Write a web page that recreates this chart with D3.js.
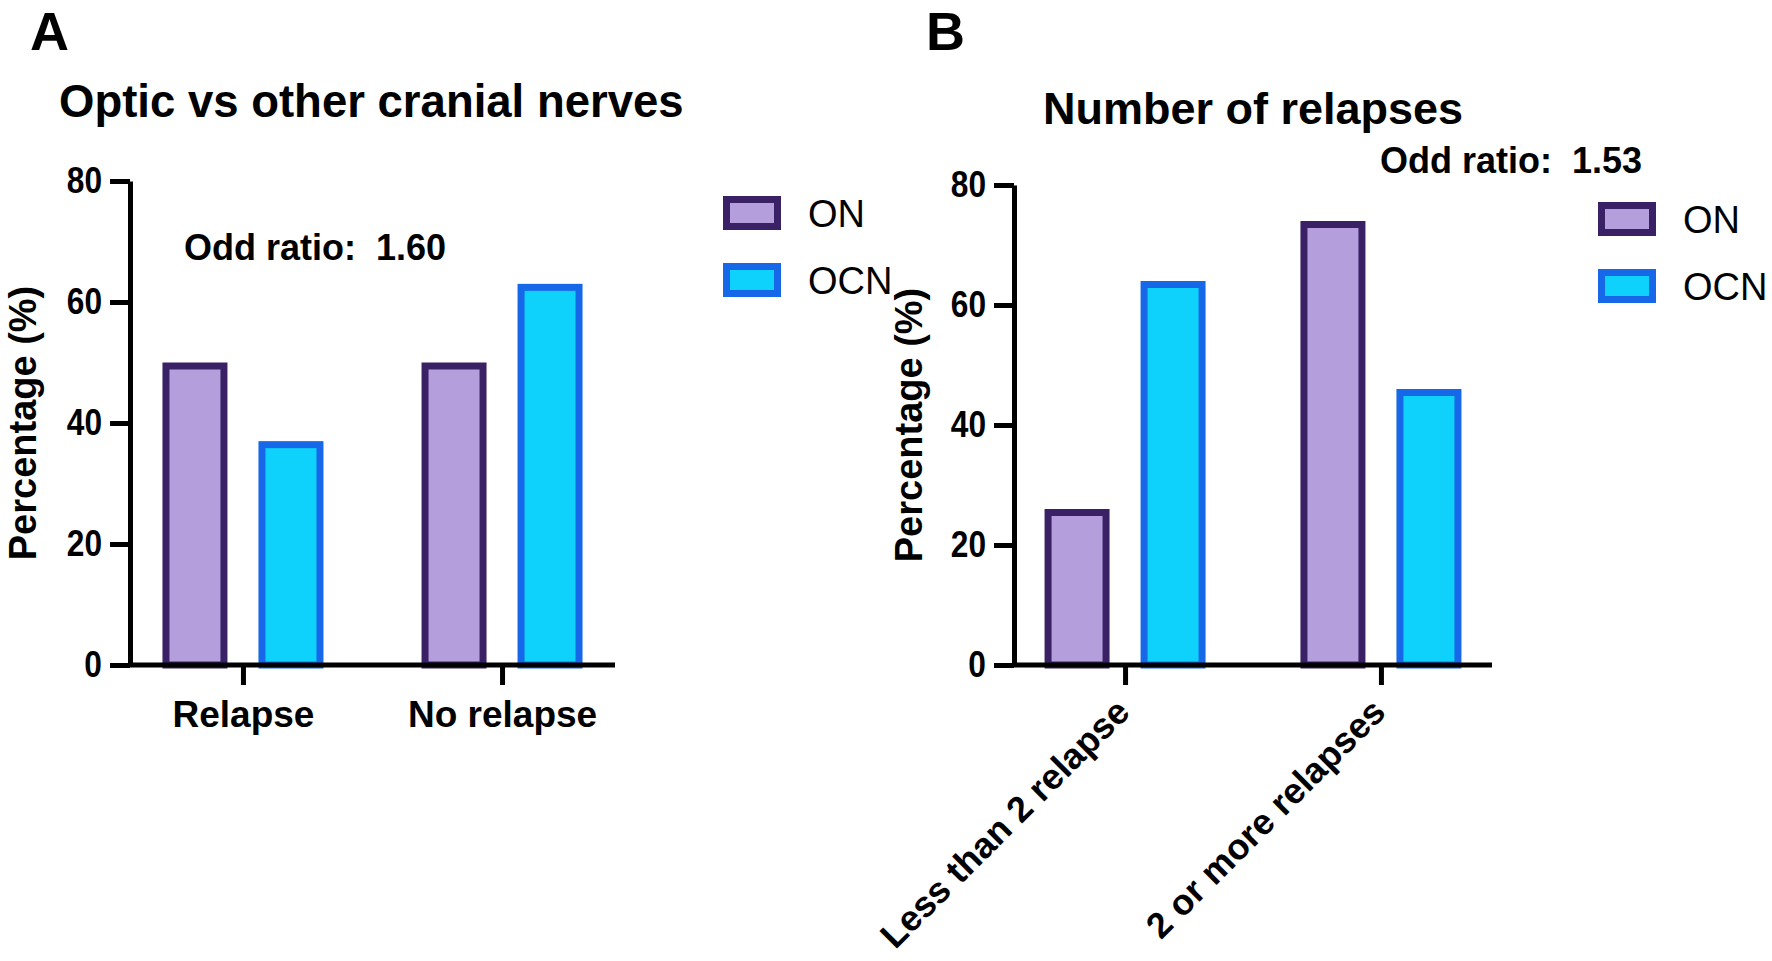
<!DOCTYPE html>
<html>
<head>
<meta charset="utf-8">
<script src="https://cdn.jsdelivr.net/npm/d3@7"></script>
<style>
  html, body { margin: 0; padding: 0; background: #fff; }
  svg { display: block; font-family: "Liberation Sans", Arial, sans-serif; }
</style>
</head>
<body>
<svg id="chart" width="1772" height="961"></svg>
<script>
// values
const series = ["ON", "OCN"];
const yTicks = [0, 20, 40, 60, 80];

const catsA = ["Relapse", "No relapse"];
const onA = [50, 50];
const ocnA = [37, 63];

const catsB = ["Less than 2 relapse", "2 or more relapses"];
const onB = [26, 74];
const ocnB = [64, 46];

const fillCol = { ON: "#b49edc", OCN: "#0ed2fc" };
const strokeCol = { ON: "#3a2166", OCN: "#1768e8" };
const sw = 7; // bar outline, drawn inside the bar

const svg = d3.select("#chart");
svg.append("rect").attr("width", 1772).attr("height", 961).attr("fill", "#fff");

// one panel = letter, title, bars, axes, legend, odds ratio
function drawPanel(p) {
    const g = svg.append("g");

    const x0 = d3.scalePoint().domain(p.cats).range(p.xRange).padding(p.xPad);
    const x1 = d3.scaleBand().domain(series).range([-80.5, 80.5]).paddingInner(0.323);
    const y = d3.scaleLinear().domain([0, 80]).range(p.yRange);

    const rows = p.cats.map((c, i) => ({ cat: c, ON: p.on[i], OCN: p.ocn[i] }));

    // bars
    const groups = g.selectAll(".grp").data(rows).enter().append("g")
        .attr("transform", d => `translate(${x0(d.cat)},0)`);
    groups.selectAll("rect").data(d => series.map(s => ({ s, v: d[s] }))).enter().append("rect")
        .attr("x", d => x1(d.s) + sw / 2)
        .attr("y", d => y(d.v) + sw / 2)
        .attr("width", x1.bandwidth() - sw)
        .attr("height", d => y(0) - y(d.v) - sw / 2)
        .attr("fill", d => fillCol[d.s])
        .attr("stroke", d => strokeCol[d.s])
        .attr("stroke-width", sw);

    // y axis
    const ya = g.append("g").attr("transform", `translate(${p.xRange[0]},0)`)
        .call(d3.axisLeft(y).tickValues(yTicks).tickSize(20).tickSizeOuter(0).tickPadding(8));
    ya.selectAll("path, line").attr("stroke", "#000").attr("stroke-width", 5);
    ya.selectAll("text").attr("fill", "#000").attr("font-size", 36).attr("font-weight", "bold")
        .each(function () {
            const w = this.getComputedTextLength();
            d3.select(this).attr("textLength", w * 0.88).attr("lengthAdjust", "spacingAndGlyphs");
        });
    ya.attr("font-family", null);

    // x axis
    const xa = g.append("g").attr("transform", `translate(0,${y(0)})`)
        .call(d3.axisBottom(x0).tickSize(20).tickSizeOuter(0).tickPadding(16));
    xa.select(".domain").attr("d", `M${p.xRange[0]},0H${p.xRange[1]}`);
    xa.selectAll("path, line").attr("stroke", "#000").attr("stroke-width", 5);
    xa.attr("font-family", null);
    const xt = xa.selectAll("text").attr("fill", "#000").attr("font-size", p.rotate ? 36 : 37).attr("font-weight", "bold");
    if (p.rotate) {
        xt.attr("x", 0).attr("y", 0).attr("dy", 0)
            .attr("text-anchor", "end")
            .attr("transform", "translate(6,49) rotate(-45)");
    }

    // y label
    g.append("text")
        .attr("transform", `translate(${p.yLabelX},${(p.yRange[0] + p.yRange[1]) / 2}) rotate(-90)`)
        .attr("text-anchor", "middle")
        .attr("font-size", 38).attr("font-weight", "bold")
        .text("Percentage (%)");

    // panel letter + title
    g.append("text").attr("x", p.letterX).attr("y", 50)
        .attr("font-size", 54).attr("font-weight", "bold").text(p.letter);
    g.append("text").attr("x", p.titleX).attr("y", p.titleY)
        .attr("font-size", p.titleSize).attr("font-weight", "bold").text(p.title);

    // odds ratio
    g.append("text").attr("x", p.orX).attr("y", p.orY)
        .style("white-space", "pre")
        .attr("font-size", 36).attr("font-weight", "bold").text(p.orText);

    // legend
    const lg = g.append("g").attr("transform", `translate(${p.legX},${p.legY})`);
    series.forEach((s, i) => {
        lg.append("rect").attr("x", 3.5).attr("y", 3.5 + i * 67)
            .attr("width", 51).attr("height", 27)
            .attr("fill", fillCol[s]).attr("stroke", strokeCol[s]).attr("stroke-width", sw);
        lg.append("text").attr("x", 85).attr("y", 31 + i * 67)
            .attr("font-size", 38).text(s);
    });
}

drawPanel({
    letter: "A", letterX: 30,
    title: "Optic vs other cranial nerves", titleX: 59, titleY: 117, titleSize: 45.5,
    cats: catsA, on: onA, ocn: ocnA,
    xRange: [130, 615], xPad: 0.436, yRange: [665, 181],
    yLabelX: 36, rotate: false,
    orText: "Odd ratio:  1.60", orX: 184, orY: 260,
    legX: 723, legY: 196
});

drawPanel({
    letter: "B", letterX: 926,
    title: "Number of relapses", titleX: 1043, titleY: 124, titleSize: 45,
    cats: catsB, on: onB, ocn: ocnB,
    xRange: [1014, 1492], xPad: 0.434, yRange: [665, 185],
    yLabelX: 922, rotate: true,
    orText: "Odd ratio:  1.53", orX: 1380, orY: 173,
    legX: 1598, legY: 202
});
</script>
</body>
</html>
